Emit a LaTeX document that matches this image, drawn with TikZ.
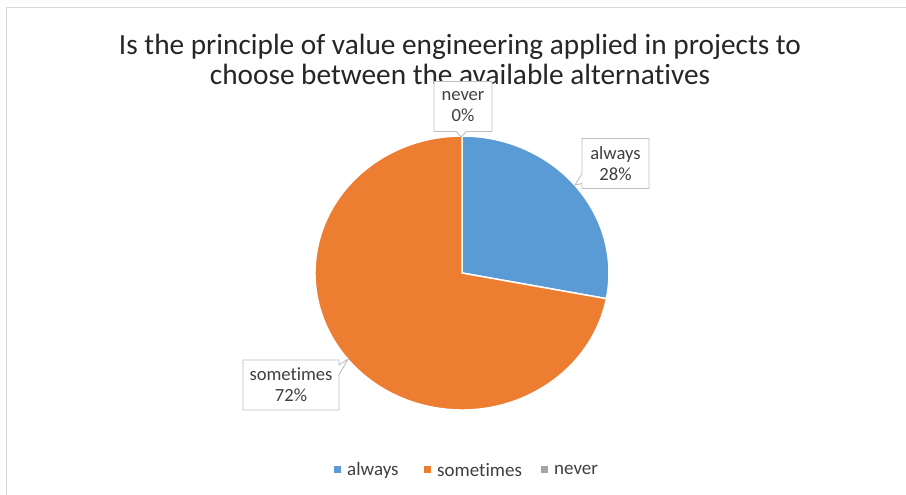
\documentclass[tikz,border=0pt]{standalone}
\usepackage{fontspec}
\setmainfont{Carlito}[Ligatures=NoCommon]
\usetikzlibrary{shapes.callouts,calc}
\definecolor{cblue}{HTML}{5B9BD5}
\definecolor{corange}{HTML}{ED7D31}
\definecolor{cgray}{HTML}{A5A5A5}
\definecolor{frame}{HTML}{D9D9D9}
\definecolor{boxline}{HTML}{BFBFBF}
\definecolor{txt}{HTML}{404040}
\definecolor{ttl}{HTML}{262626}
\tikzset{
  slice/.style={draw=white, line width=1.5pt},
  lbl/.style={rectangle callout, draw=boxline, line width=0.9pt, fill=white, text=txt,
    font=\fontsize{18.6}{21}\selectfont, align=center, inner sep=0pt, minimum height=50pt,
    callout pointer width=10pt},
  legmark/.style={fill=#1, minimum size=7pt, inner sep=0pt},
  legtext/.style={text=txt, font=\fontsize{19}{21}\selectfont, anchor=west, inner sep=0pt}
}
\begin{document}
\begin{tikzpicture}[x=1pt,y=1pt]
\useasboundingbox (0,0) rectangle (906,495);
\fill[white] (0,0) rectangle (906,495);
\draw[frame, line width=1pt] (6,0) -- (6,487) -- (906,487);
% title
\node[text=ttl, font=\fontsize{29.3}{30}\selectfont, align=center] (title) at (460,436)
  {Is the principle of value engineering applied in projects to\\choose between the available alternatives};
% pie
\coordinate (c) at (462,222);
\coordinate (ptop) at (462,359);
\coordinate (pcut) at ({462+147*cos(10.8)},{222-137*sin(10.8)});
\fill[cblue, slice] (c) -- (ptop) arc[start angle=90, end angle=-10.8, x radius=147, y radius=137] -- cycle;
\fill[corange, slice] (c) -- (pcut) arc[start angle=-10.8, end angle=-270, x radius=147, y radius=137] -- cycle;
% labels
\node[lbl, minimum width=58pt, callout absolute pointer={(461,358)}] (lnever) at (463,388.5) {never\\0\%};
\node[lbl, minimum width=67pt, callout absolute pointer={(575,310)}] (lalways) at (615.5,331.5) {always\\28\%};
\node[lbl, minimum width=96pt, callout absolute pointer={(348,136)}] (lsome) at (291,110) {sometimes\\72\%};
% legend
\node[legmark=cblue] (m1) at (337.5,25) {};
\node[legtext] (t1) at (347,25) {always};
\node[legmark=corange] (m2) at (427.5,25) {};
\node[legtext] (t2) at (437,25) {sometimes};
\node[legmark=cgray] (m3) at (544.5,25) {};
\node[legtext] (t3) at (554,25) {never};
\end{tikzpicture}
\end{document}
